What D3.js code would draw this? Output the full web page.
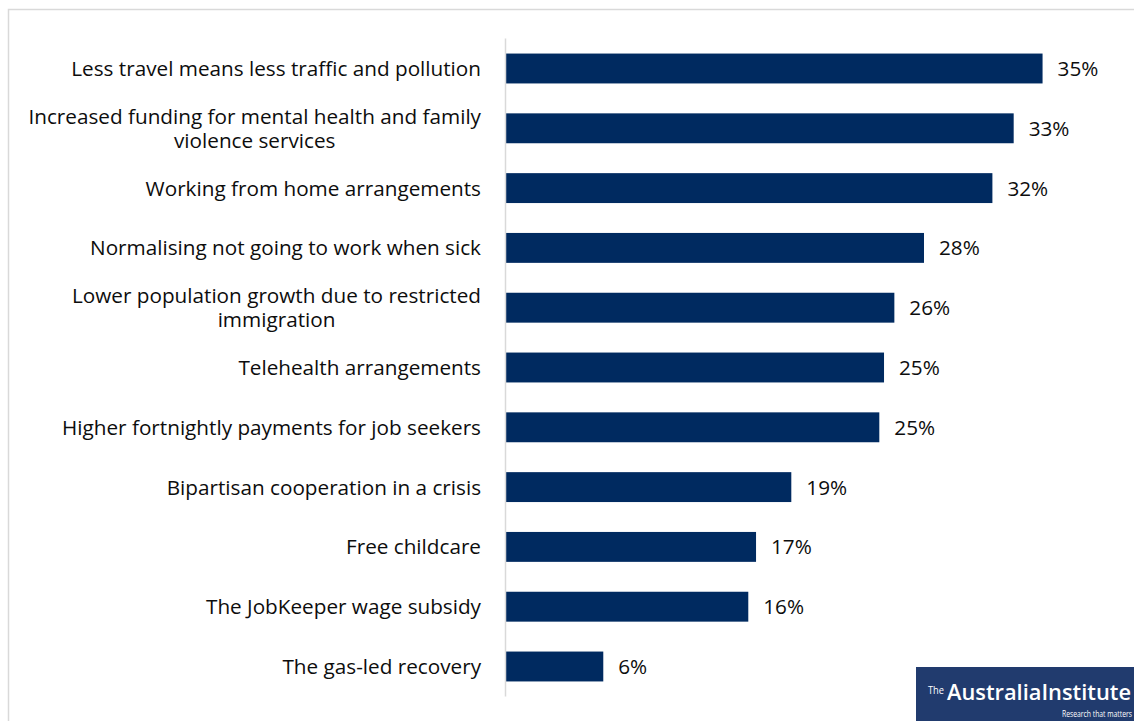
<!DOCTYPE html>
<html>
<head>
<meta charset="utf-8">
<script src="https://cdn.jsdelivr.net/npm/d3@7"></script>
<style>
  html, body { margin: 0; padding: 0; background: #fff; }
  svg { display: block; }
</style>
</head>
<body>
<svg id="chart" width="1134" height="721"></svg>
<script>
const categories = [
  ["Less travel means less traffic and pollution"],
  ["Increased funding for mental health and family", "violence services"],
  ["Working from home arrangements"],
  ["Normalising not going to work when sick"],
  ["Lower population growth due to restricted", "immigration"],
  ["Telehealth arrangements"],
  ["Higher fortnightly payments for job seekers"],
  ["Bipartisan cooperation in a crisis"],
  ["Free childcare"],
  ["The JobKeeper wage subsidy"],
  ["The gas-led recovery"]
];
const values = [35.3, 33.4, 32.0, 27.5, 25.55, 24.87, 24.56, 18.77, 16.45, 15.94, 6.4];
const valueLabels = ["35%", "33%", "32%", "28%", "26%", "25%", "25%", "19%", "17%", "16%", "6%"];

const svg = d3.select("#chart");
const W = 1134, H = 721;
const font = "'Open Sans', sans-serif";

// fit font size so the first label spans the same width as in the reference
const probe = svg.append("text").attr("font-family", font).attr("font-size", 100).text(categories[0][0]);
const fs = 100 * 410 / probe.node().getComputedTextLength();
probe.remove();

// frame
svg.append("rect").attr("x", 8.5).attr("y", 9.5).attr("width", W + 10).attr("height", H + 10)
  .attr("fill", "#fff").attr("stroke", "#d9d9d9").attr("stroke-width", 1.5);

const x0 = 506;
const x = d3.scaleLinear().domain([0, 40]).range([x0, x0 + 40 * 15.2]);
const idx = d3.range(categories.length);
const y = d3.scaleBand().domain(idx).range([38.6, 38.6 + 11 * 59.8]).paddingInner(0.5).paddingOuter(0.25);

// bars
svg.append("g").selectAll("rect").data(idx).join("rect")
  .attr("x", x(0))
  .attr("y", i => y(i))
  .attr("width", i => x(values[i]) - x(0))
  .attr("height", y.bandwidth())
  .attr("fill", "#002a60");

// axis line
const axis = d3.axisLeft(y).tickSize(0).tickFormat("");
const ag = svg.append("g").attr("transform", `translate(${x0 - 0.5},0)`).call(axis);
ag.select(".domain").attr("stroke", "#d9d9d9").attr("stroke-width", 1.5)
  .attr("d", `M0,${y.range()[0]}V${y.range()[1]}`);

// category labels
const labelRight = 481;
const lineH = 24.5;
const lg = svg.append("g").attr("font-family", font).attr("font-size", fs).attr("fill", "#0d0d0d");
idx.forEach(i => {
  const lines = categories[i];
  const cy = y(i) + y.bandwidth() / 2;
  const g = lg.append("g");
  const texts = lines.map((t, k) => g.append("text")
    .attr("y", cy + (k - (lines.length - 1) / 2) * lineH)
    .attr("dy", "0.36em")
    .text(t));
  const widths = texts.map(t => t.node().getComputedTextLength());
  const maxW = d3.max(widths);
  const center = labelRight - maxW / 2;
  texts.forEach(t => t.attr("x", center).attr("text-anchor", "middle"));
});

// value labels
svg.append("g").attr("font-family", font).attr("font-size", fs).attr("fill", "#0d0d0d")
  .selectAll("text").data(idx).join("text")
  .attr("x", i => x(values[i]) + 15)
  .attr("y", i => y(i) + y.bandwidth() / 2)
  .attr("dy", "0.36em")
  .text(i => valueLabels[i]);

// logo
const logo = svg.append("g").attr("transform", "translate(916,667)");
logo.append("rect").attr("width", 220).attr("height", 56).attr("fill", "#213b6e");
logo.append("text").attr("x", 12).attr("y", 27).attr("fill", "#fff")
  .attr("font-family", "'Open Sans', sans-serif").attr("font-size", 11)
  .attr("textLength", 16).attr("lengthAdjust", "spacingAndGlyphs")
  .text("The");
logo.append("text").attr("x", 31).attr("y", 33).attr("fill", "#fff")
  .attr("font-family", "'Open Sans', sans-serif").attr("font-size", 22).attr("font-weight", 600)
  .attr("textLength", 184).attr("lengthAdjust", "spacingAndGlyphs")
  .text("AustraliaInstitute");
logo.append("text").attr("x", 146).attr("y", 50).attr("fill", "#fff")
  .attr("font-family", "'Open Sans', sans-serif").attr("font-size", 9.5)
  .attr("textLength", 70).attr("lengthAdjust", "spacingAndGlyphs")
  .text("Research that matters");
</script>
</body>
</html>
